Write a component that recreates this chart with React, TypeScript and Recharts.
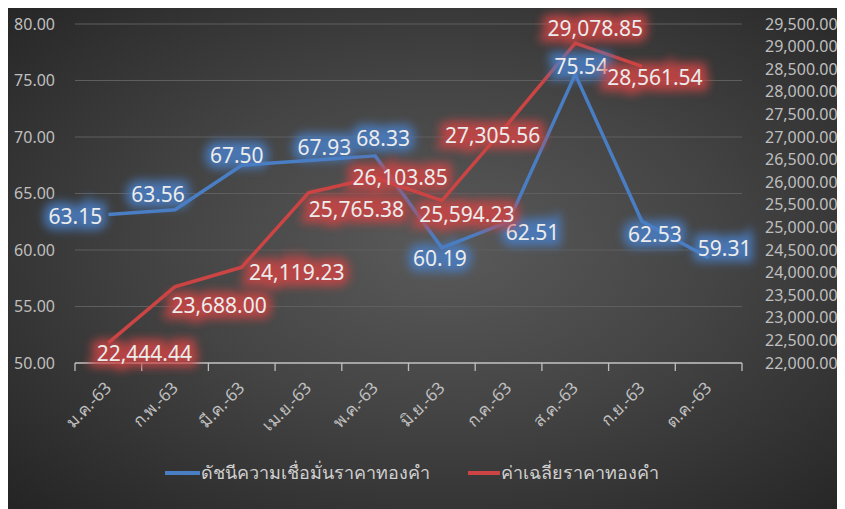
import React from 'react';
import { LineChart, Line, XAxis, YAxis, CartesianGrid, Legend } from 'recharts';

const months = ['ม.ค.-63', 'ก.พ.-63', 'มี.ค.-63', 'เม.ย.-63', 'พ.ค.-63', 'มิ.ย.-63', 'ก.ค.-63', 'ส.ค.-63', 'ก.ย.-63', 'ต.ค.-63'];
const confidenceIndex = [63.15, 63.56, 67.5, 67.93, 68.33, 60.19, 62.51, 75.54, 62.53, 59.31];
const avgGoldPrice: (number | null)[] = [22444.44, 23688.0, 24119.23, 25765.38, 26103.85, 25594.23, 27305.56, 29078.85, 28561.54, null];
const leftTicks = [50, 55, 60, 65, 70, 75, 80];
const rightTicks = [22000, 22500, 23000, 23500, 24000, 24500, 25000, 25500, 26000, 26500, 27000, 27500, 28000, 28500, 29000, 29500];
const seriesNames = ['ดัชนีความเชื่อมั่นราคาทองคำ', 'ค่าเฉลี่ยราคาทองคำ'];

// label offsets (text centre relative to the point), like the hand-placed labels in the original
const blueOffsets = [[-33, 2], [-17, -16], [-5, -10], [16, -13], [8, -18], [-2, 10], [24, 10], [6, -8], [13, 13], [16, -10]];
const redOffsets = [[36, 10], [44, 18], [55, 5], [48, 16], [25, -1], [25, 13], [-16, 12], [20, -15], [13, 11]];

const data = months.map((m, i) => ({ month: m, index: confidenceIndex[i], price: avgGoldPrice[i] }));

const W = 837;
const H = 503;
const plotLeft = 67;
const plotRight = 734;
const band = (plotRight - plotLeft) / months.length;

const BLUE = '#4a7ec4';
const RED = '#cc4444';
const TXT = '#bfbfbf';
const font = '"Noto Sans", sans-serif';

const fmt2 = (v: number) => v.toLocaleString('en-US', { minimumFractionDigits: 2, maximumFractionDigits: 2 });

const makeLabel = (offsets: number[][], color: string, filterId: string) => (props: any) => {
  const { x, y, value, index } = props;
  if (value == null || x == null || y == null) return null;
  const [dx, dy] = offsets[index] || [0, -12];
  const cx = x + dx;
  const cy = y + dy;
  const text = fmt2(Number(value));
  return (
    <g key={`lbl-${filterId}-${index}`}>
      <text x={cx} y={cy} textAnchor="middle" dominantBaseline="central" fontSize={21} fontFamily={font}
        fill={color} stroke={color} strokeWidth={12} filter={`url(#${filterId})`} opacity={0.85}>
        {text}
      </text>
      <text x={cx} y={cy} textAnchor="middle" dominantBaseline="central" fontSize={21} fontFamily={font} fill="#ececec">
        {text}
      </text>
    </g>
  );
};

const XTick = (props: any) => {
  const { x, y, payload, index } = props;
  return (
    <g>
      <line x1={x - band / 2} x2={x - band / 2} y1={y} y2={y + 8} stroke={TXT} strokeWidth={1.3} />
      {index === months.length - 1 && (
        <line x1={x + band / 2} x2={x + band / 2} y1={y} y2={y + 8} stroke={TXT} strokeWidth={1.3} />
      )}
      <text transform={`translate(${x + 4},${y + 26}) rotate(-45)`} textAnchor="end" fontSize={17} fontFamily={font} fill={TXT}>
        {payload.value}
      </text>
    </g>
  );
};

const LegendContent = () => (
  <div style={{ display: 'flex', justifyContent: 'center', alignItems: 'center', fontFamily: font, fontSize: 18, color: '#d0d0d0' }}>
    <span style={{ display: 'inline-block', width: 35, height: 4, background: BLUE, marginRight: 1 }} />
    <span style={{ marginRight: 38 }}>{seriesNames[0]}</span>
    <span style={{ display: 'inline-block', width: 32, height: 4, background: RED, marginRight: 1 }} />
    <span>{seriesNames[1]}</span>
  </div>
);

export default function App() {
  return (
    <div
      style={{
        position: 'relative',
        width: W,
        height: H,
        marginTop: -2,
        background: 'radial-gradient(ellipse at 52% 48%, #5a5a5a 0%, #444444 45%, #242424 100%)',
      }}
    >
      <svg width={0} height={0} style={{ position: 'absolute' }}>
        <defs>
          <filter id="glowBlue" x="-30%" y="-80%" width="160%" height="260%">
            <feGaussianBlur stdDeviation="5" />
          </filter>
          <filter id="glowRed" x="-30%" y="-80%" width="160%" height="260%">
            <feGaussianBlur stdDeviation="5" />
          </filter>
        </defs>
      </svg>
      <LineChart width={W} height={H} data={data} margin={{ top: 18, right: 0, left: 0, bottom: 86 }}>
        <CartesianGrid yAxisId="left" vertical={false} stroke="#5e5e5e" strokeWidth={1} />
        <XAxis
          dataKey="month"
          height={60}
          interval={0}
          padding={{ left: band / 2, right: band / 2 }}
          tick={<XTick />}
          tickLine={false}
          tickSize={0}
          tickMargin={0}
          axisLine={{ stroke: TXT, strokeWidth: 1.3 }}
        />
        <YAxis
          yAxisId="left"
          width={67}
          domain={[50, 80]}
          ticks={leftTicks}
          interval={0}
          tickFormatter={(v: number) => v.toFixed(2)}
          axisLine={false}
          tickLine={false}
          tickMargin={14}
          tick={{ fill: TXT, fontSize: 16, fontFamily: font }}
        />
        <YAxis
          yAxisId="right"
          orientation="right"
          width={103}
          domain={[22000, 29500]}
          ticks={rightTicks}
          interval={0}
          tickFormatter={fmt2}
          axisLine={false}
          tickLine={false}
          tickMargin={17}
          tick={{ fill: TXT, fontSize: 16, fontFamily: font, textAnchor: 'start' }}
        />
        <Legend
          layout="horizontal"
          verticalAlign="middle"
          align="center"
          content={<LegendContent />}
          wrapperStyle={{ top: 452, left: 0, width: 808 }}
        />
        <Line
          yAxisId="left"
          type="linear"
          dataKey="index"
          name={seriesNames[0]}
          stroke={BLUE}
          strokeWidth={3.5}
          strokeLinejoin="round"
          dot={false}
          isAnimationActive={false}
          label={makeLabel(blueOffsets, BLUE, 'glowBlue')}
        />
        <Line
          yAxisId="right"
          type="linear"
          dataKey="price"
          name={seriesNames[1]}
          stroke={RED}
          strokeWidth={3.5}
          strokeLinejoin="round"
          dot={false}
          isAnimationActive={false}
          label={makeLabel(redOffsets, RED, 'glowRed')}
        />
      </LineChart>
    </div>
  );
}
